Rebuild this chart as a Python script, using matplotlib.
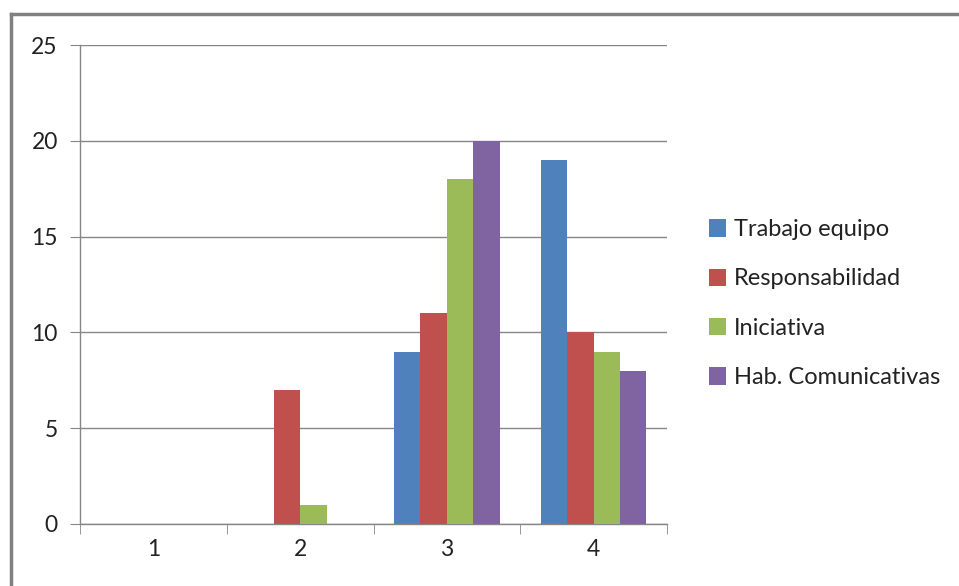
import matplotlib
matplotlib.use("Agg")
import matplotlib.pyplot as plt
import numpy as np
from matplotlib.lines import Line2D

categories = ["1", "2", "3", "4"]
series_names = ["Trabajo equipo", "Responsabilidad", "Iniciativa", "Hab. Comunicativas"]
trabajo = [0, 0, 9, 19]
responsabilidad = [0, 7, 11, 10]
iniciativa = [0, 1, 18, 9]
comunicativas = [0, 0, 20, 8]
yticks = [0, 5, 10, 15, 20, 25]

colors = ["#4F81BD", "#C0504D", "#9BBB59", "#8064A2"]
grid_c = "#868686"

plt.rcParams['font.family'] = ['Lato', 'DejaVu Sans']

fig = plt.figure(figsize=(9.59, 5.86), dpi=100)
ax = fig.add_axes([80 / 959, 1 - 524 / 586, 587 / 959, 479 / 586])

x = np.arange(len(categories))
w = 0.18
all_series = [trabajo, responsabilidad, iniciativa, comunicativas]
for i, (vals, name) in enumerate(zip(all_series, series_names)):
    ax.bar(x + (i - 1.5) * w, vals, w, color=colors[i], label=name, zorder=3)

ax.set_xlim(-0.5, 3.5)
ax.set_ylim(0, 25)
ax.set_yticks(yticks)
ax.set_xticks(x)
ax.set_xticklabels(categories)
ax.set_xticks(np.arange(-0.5, 4, 1), minor=True)
ax.tick_params(axis='x', which='major', length=0, pad=11, labelsize=16.5, colors='#222222')
ax.tick_params(axis='x', which='minor', length=7, color=grid_c, direction='out')
ax.tick_params(axis='y', length=7, color=grid_c, pad=9, labelsize=16.5, labelcolor='#222222')
ax.yaxis.grid(True, color=grid_c, linewidth=1, zorder=0)
for s in ['top', 'right']:
    ax.spines[s].set_visible(False)
for s in ['left', 'bottom']:
    ax.spines[s].set_color(grid_c)
    ax.spines[s].set_linewidth(1)

leg = ax.legend(loc='center left', bbox_to_anchor=(1.055, 0.46), frameon=False,
                fontsize=17, handlelength=0.75, handleheight=0.75, handletextpad=0.3,
                labelspacing=1.2, borderaxespad=0)
for t in leg.get_texts():
    t.set_color('#222222')

# outer chart border (top and left visible)
fig.add_artist(Line2D([11 / 959, 11 / 959], [0, 1 - 14 / 586], transform=fig.transFigure,
                      color='#808080', linewidth=2.5))
fig.add_artist(Line2D([11 / 959, 1], [1 - 14 / 586, 1 - 14 / 586], transform=fig.transFigure,
                      color='#808080', linewidth=2.5))

fig.savefig("out.png", dpi=100)
